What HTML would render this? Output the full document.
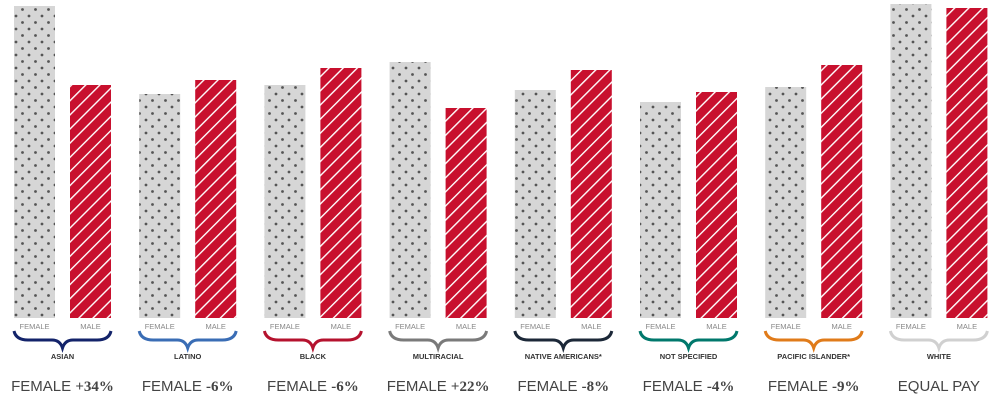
<!DOCTYPE html>
<html><head><meta charset="utf-8"><style>
html,body{margin:0;padding:0;background:#fff;width:1000px;height:414px;overflow:hidden}
</style></head><body>
<svg id="s" width="1000" height="414" xmlns="http://www.w3.org/2000/svg">
<defs>
<pattern id="dots" width="13" height="13" patternUnits="userSpaceOnUse">
<rect width="13" height="13" fill="#d6d6d6"/>
<circle cx="3" cy="3" r="1.4" fill="#555"/>
<circle cx="9.5" cy="9.5" r="1.4" fill="#555"/>
</pattern>
<pattern id="stripes" width="10" height="10" patternUnits="userSpaceOnUse" patternTransform="rotate(45)">
<rect width="10" height="10" fill="#c8102e"/>
<rect x="0" y="0" width="1.4" height="10" fill="#fff"/>
</pattern>
</defs>
<g id="g"></g>
</svg>
<script>
var data=[
["ASIAN","#13236a",6,85,"FEMALE ","+34%"],
["LATINO","#3a6db5",94,80,"FEMALE ","-6%"],
["BLACK","#b5122e",85,68,"FEMALE ","-6%"],
["MULTIRACIAL","#7a7a7a",62,108,"FEMALE ","+22%"],
["NATIVE AMERICANS*","#1c2838",90,70,"FEMALE ","-8%"],
["NOT SPECIFIED","#00786c",102,92,"FEMALE ","-4%"],
["PACIFIC ISLANDER*","#e07b1a",87,65,"FEMALE ","-9%"],
["WHITE","#d0d0d0",4,8,"EQUAL PAY",""]];
var h="";
data.forEach(function(d,i){
var gx=14+i*125.2, c=gx+48.5;
h+='<rect x="'+gx+'" y="'+d[2]+'" width="41" height="'+(318-d[2])+'" fill="url(#dots)"/>';
h+='<rect x="'+(gx+56)+'" y="'+d[3]+'" width="41" height="'+(318-d[3])+'" fill="url(#stripes)"/>';
h+='<text x="'+(gx+20.5)+'" y="329" font-family="Liberation Sans,sans-serif" font-size="7.5" fill="#888" text-anchor="middle">FEMALE</text>';
h+='<text x="'+(gx+76.5)+'" y="329" font-family="Liberation Sans,sans-serif" font-size="7.5" fill="#888" text-anchor="middle">MALE</text>';
h+='<path d="M'+gx+',331 Q'+(gx+2)+',340 '+(gx+14)+',340 L'+(gx+38)+',340 Q'+(gx+46)+',340 '+c+',348 Q'+(gx+51)+',340 '+(gx+59)+',340 L'+(gx+83)+',340 Q'+(gx+95)+',340 '+(gx+97)+',331" fill="none" stroke="'+d[1]+'" stroke-width="3"/>';
h+='<text x="'+c+'" y="359" font-family="Liberation Sans,sans-serif" font-size="7.5" font-weight="bold" fill="#333" text-anchor="middle">'+d[0]+'</text>';
h+='<text x="'+c+'" y="391" text-anchor="middle" fill="#444"><tspan font-family="Liberation Sans,sans-serif" font-size="15">'+d[4]+'</tspan><tspan font-family="Liberation Serif,serif" font-weight="bold" font-size="15">'+d[5]+'</tspan></text>';
});
document.getElementById("g").innerHTML=h;
</script>
</body></html>
